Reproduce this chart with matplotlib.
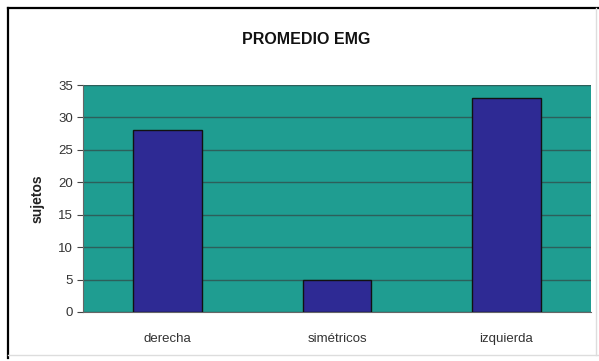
import matplotlib
matplotlib.use("Agg")
import matplotlib.pyplot as plt
from matplotlib.lines import Line2D

categories = ["derecha", "simétricos", "izquierda"]
values = [28, 5, 33]
yticks = [0, 5, 10, 15, 20, 25, 30, 35]
title = "PROMEDIO EMG"
ylabel = "sujetos"

plt.rcParams['font.family'] = ['Liberation Sans', 'DejaVu Sans']

W, H = 599, 361
fig = plt.figure(figsize=(W / 100, H / 100), dpi=100)
fig.patch.set_facecolor("white")

# outer frame
fig.add_artist(Line2D([8 / W, 8 / W], [1 - 8 / H, 1 - 358 / H], color="black", lw=1.6, transform=fig.transFigure))
fig.add_artist(Line2D([8 / W, 598 / W], [1 - 8 / H, 1 - 8 / H], color="black", lw=1.6, transform=fig.transFigure))
fig.add_artist(Line2D([8 / W, 598 / W], [1 - 355 / H, 1 - 355 / H], color="#dddddd", lw=1.0, transform=fig.transFigure))
fig.add_artist(Line2D([596 / W, 596 / W], [1 - 8 / H, 1 - 355 / H], color="#dddddd", lw=1.0, transform=fig.transFigure))

left, right, top, bottom = 83, 591, 85, 312
ax = fig.add_axes([left / W, 1 - bottom / H, (right - left) / W, (bottom - top) / H])
ax.set_facecolor("#1f9d91")

x = list(range(len(categories)))
ax.bar(x, values, width=0.405, color="#2e2a94", edgecolor="#111111", linewidth=1.0, zorder=3)

ax.set_xlim(-0.5, len(categories) - 0.5)
ax.set_ylim(0, 35)
ax.set_yticks(yticks)
ax.set_yticklabels([str(t) for t in yticks], fontsize=9.5, color="#333333")
ax.set_xticks(x)
ax.set_xticklabels(categories, fontsize=9.5, color="#333333")
ax.tick_params(axis="y", length=4, width=0.8, color="#444444", pad=3)
ax.tick_params(axis="x", length=0, pad=15)
ax.grid(axis="y", color="#2d5f5a", linewidth=1.0, zorder=1)
for s in ["top", "right"]:
    ax.spines[s].set_visible(False)
ax.spines["left"].set_color("#666666")
ax.spines["bottom"].set_color("#666666")

ax.set_ylabel(ylabel, fontsize=10, fontweight="bold", color="#222222", labelpad=10)
fig.text(306 / W, 1 - 39 / H, title, ha="center", va="center",
         fontsize=11.5, fontweight="bold", color="#111111")

fig.savefig("out.png", dpi=100)
